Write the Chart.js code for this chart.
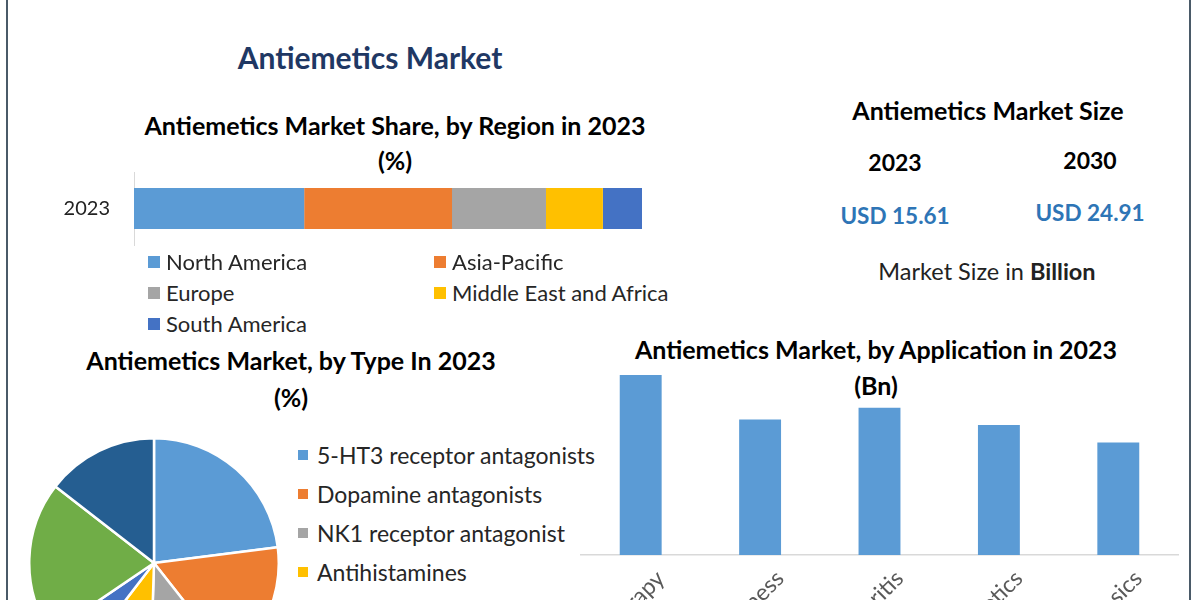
<!DOCTYPE html>
<html>
<head>
<meta charset="utf-8">
<script src="https://cdn.jsdelivr.net/npm/chart.js@4"></script>
<style>
  html, body { margin: 0; padding: 0; }
  body { width: 1200px; height: 600px; overflow: hidden; position: relative; background: #fff; font-family: Lato, "Open Sans", sans-serif; color: #222; }
  .abs { position: absolute; }
  .txt { position: absolute; white-space: nowrap; text-align: center; }
  .title { font-size: 25px; font-weight: bold; color: #000; }
  .border { position: absolute; top: 0; width: 2px; height: 600px; background: #4a5a68; }
  .legend { position: absolute; font-size: 22px; color: #262626; }
  .legend .item { position: absolute; white-space: nowrap; display: flex; align-items: center; }
  .legend .box { display: inline-block; margin-right: 6px; }
</style>
</head>
<body>
<div class="border" style="left:6px"></div>
<div class="border" style="left:1189px"></div>

<div class="txt" style="left:70px;width:600px;top:39px;font-size:30px;font-weight:bold;color:#1f3864;">Antiemetics Market</div>

<div class="txt title" style="left:95px;width:600px;top:108px;line-height:35px;">Antiemetics Market Share, by Region in 2023<br>(%)</div>

<div class="txt title" style="left:788px;width:400px;top:95px;">Antiemetics Market Size</div>
<div id="sizeBlock"></div>
<div class="txt" style="left:787px;width:400px;top:257px;font-size:23.5px;color:#222;">Market Size in <b>Billion</b></div>

<div class="txt title" style="left:-9px;width:600px;top:342px;line-height:37px;">Antiemetics Market, by Type In 2023<br>(%)</div>

<div class="txt title" style="left:576px;width:600px;top:331px;line-height:36px;">Antiemetics Market, by Application in 2023<br>(Bn)</div>

<canvas id="regionChart" class="abs" width="700" height="92" style="left:0;top:165px;width:700px;height:92px;"></canvas>
<div id="regionLegend" class="legend"></div>

<canvas id="typeChart" class="abs" width="252" height="252" style="left:28px;top:437px;width:252px;height:252px;"></canvas>
<div id="typeLegend" class="legend"></div>

<canvas id="appChart" class="abs" width="640" height="320" style="left:560px;top:360px;width:640px;height:320px;"></canvas>

<script>
// region share (%), 2023
const regionLabels = ["North America", "Asia-Pacific", "Europe", "Middle East and Africa", "South America"];
const regionShares = [33.5, 29.1, 18.5, 11.2, 7.7];
const regionColors = ["#5b9bd5", "#ed7d31", "#a5a5a5", "#ffc000", "#4472c4"];
const regionYear = ["2023"];

// type share (%), 2023
const typeLabels = ["5-HT3 receptor antagonists", "Dopamine antagonists", "NK1 receptor antagonist", "Antihistamines", "Cannabinoids", "Benzodiazepines", "Others"];
const typeShares = [23.0, 16.4, 11.1, 9.9, 5.1, 20.0, 14.5];
const typeColors = ["#5b9bd5", "#ed7d31", "#a5a5a5", "#ffc000", "#4472c4", "#70ad47", "#255e91"];

// application (Bn), 2023
const appLabels = ["Chemotherapy", "Motion Sickness", "Gastroenteritis", "Anesthetics", "Opioid Analgesics"];
const appValues = [3.99, 3.0, 3.26, 2.88, 2.49];

// market size (USD Bn)
const sizeYears = ["2023", "2030"];
const sizeValues = [15.61, 24.91];

document.addEventListener("DOMContentLoaded", () => {
  buildSizeBlock();
  buildLegends();
  renderCharts();
});

function buildSizeBlock() {
  const block = document.getElementById("sizeBlock");
  const centers = [895, 1090];
  sizeYears.forEach((yr, i) => {
    const y = document.createElement("div");
    y.className = "txt";
    y.style.cssText = `left:${centers[i] - 100}px;width:200px;top:${i ? 146 : 148}px;font-size:23px;font-weight:bold;color:#000;`;
    y.textContent = yr;
    block.appendChild(y);
    const v = document.createElement("div");
    v.className = "txt";
    v.style.cssText = `left:${centers[i] - 100}px;width:200px;top:${i ? 199 : 202}px;font-size:22.5px;font-weight:bold;color:#2e75b6;`;
    v.textContent = "USD " + sizeValues[i].toFixed(2);
    block.appendChild(v);
  });
}

function buildLegends() {
  // region legend: 2 columns
  const rl = document.getElementById("regionLegend");
  regionLabels.forEach((lab, i) => {
    const it = document.createElement("div");
    it.className = "item";
    it.style.left = (148 + (i % 2) * 286) + "px";
    it.style.top = (248 + Math.floor(i / 2) * 31) + "px";
    it.innerHTML = `<span class="box" style="width:12px;height:12px;background:${regionColors[i]}"></span>${lab}`;
    rl.appendChild(it);
  });

  // type legend: single column
  const tl = document.getElementById("typeLegend");
  typeLabels.forEach((lab, i) => {
    const it = document.createElement("div");
    it.className = "item";
    it.style.left = "298px";
    it.style.top = (441 + i * 39) + "px";
    it.style.fontSize = "23px";
    it.innerHTML = `<span class="box" style="width:10px;height:10px;background:${typeColors[i]};margin-right:9px"></span>${lab}`;
    tl.appendChild(it);
  });
}

function renderCharts() {
  if (!window.Chart) return;

  // stacked horizontal bar
  new Chart(document.getElementById("regionChart"), {
    type: "bar",
    data: {
      labels: regionYear,
      datasets: regionLabels.map((lab, i) => ({
        label: lab,
        data: [regionShares[i]],
        backgroundColor: regionColors[i],
        stack: "region",
        barPercentage: 1,
        categoryPercentage: 0.56
      }))
    },
    options: {
      indexAxis: "y",
      responsive: false,
      animation: false,
      layout: { padding: { top: 7, bottom: 12, right: 58 } },
      plugins: { legend: { display: false }, tooltip: { enabled: false } },
      scales: {
        x: { stacked: true, display: false, min: 0, max: 100 },
        y: {
          stacked: true,
          grid: { display: false, drawTicks: false },
          border: { display: true, color: "#d9d9d9" },
          ticks: { color: "#222", font: { family: "Lato", size: 20 }, padding: 24 },
          afterFit: (s) => { s.width = 134; s.paddingTop = 0; s.paddingBottom = 0; }
        }
      }
    }
  });

  // pie
  new Chart(document.getElementById("typeChart"), {
    type: "pie",
    data: {
      labels: typeLabels,
      datasets: [{
        data: typeShares,
        backgroundColor: typeColors,
        borderColor: "#fff",
        borderWidth: 2.5
      }]
    },
    options: {
      responsive: false,
      animation: false,
      plugins: { legend: { display: false }, tooltip: { enabled: false } }
    }
  });

  // application columns
  new Chart(document.getElementById("appChart"), {
    type: "bar",
    data: {
      labels: appLabels,
      datasets: [{
        data: appValues,
        backgroundColor: "#5b9bd5",
        barPercentage: 0.9,
        categoryPercentage: 0.39
      }]
    },
    options: {
      responsive: false,
      animation: false,
      layout: { padding: { left: 21, right: 22, top: 0 } },
      plugins: { legend: { display: false }, tooltip: { enabled: false } },
      scales: {
        y: { display: false, min: 0, max: 4.32 },
        x: {
          grid: { display: false, drawTicks: false },
          border: { display: true, color: "#d9d9d9", width: 1.5 },
          ticks: { color: "#595959", font: { family: "Lato", size: 23 }, minRotation: 45, maxRotation: 45, padding: 10, labelOffset: 20 },
          afterFit: (s) => { s.height = 125; s.paddingLeft = 0; s.paddingRight = 0; }
        }
      }
    }
  });
}
</script>
</body>
</html>
